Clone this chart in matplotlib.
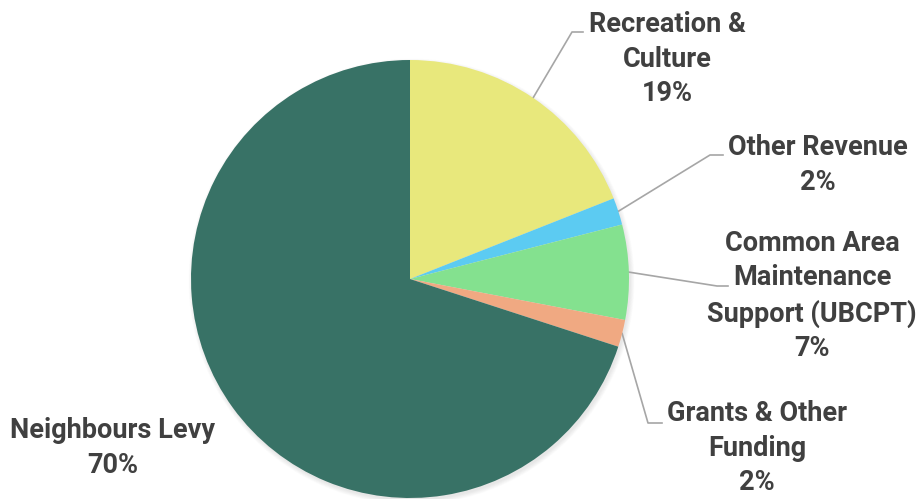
import matplotlib.pyplot as plt
import numpy as np

plt.rcParams['font.family'] = ['Roboto', 'DejaVu Sans']

# Revenue breakdown (%)
categories = ['Recreation &\nCulture', 'Other Revenue', 'Common Area\nMaintenance\nSupport (UBCPT)',
              'Grants & Other\nFunding', 'Neighbours Levy']
shares = [19, 2, 7, 2, 70]
colors = ['#E8E87C', '#5CCBF2', '#84E18F', '#F0A982', '#387266']

W, H = 919, 499
cx, cy, r = 410, H - 279, 219

fig = plt.figure(figsize=(W / 100, H / 100), dpi=100)
ax = fig.add_axes([0, 0, 1, 1])

# soft shadow behind the pie
for i in range(8):
    ax.add_patch(plt.Circle((cx + 1.5, cy - 2.5), r + 4 - i * 0.6, color='black',
                            alpha=0.012, lw=0, zorder=0))

wedges, _ = ax.pie(shares, colors=colors, startangle=90, counterclock=False,
                   center=(cx, cy), radius=r, wedgeprops=dict(linewidth=0))
for w in wedges:
    w.set_zorder(2)

# label block centres and leader-line elbows (pixels from top-left)
label_xy = [(667, 59), (818, 165), (812, 296), (757, 448), (113, 448)]
elbows = [[(572, 32), (583, 32)],
          [(710, 155), (723, 155)],
          [(717, 286), (728, 286)],
          [(648, 423), (662, 423)],
          None]

for w, cat, pct, (lx, ly), elb in zip(wedges, categories, shares, label_xy, elbows):
    ang = np.deg2rad((w.theta1 + w.theta2) / 2)
    if elb is not None:
        xs = [cx + r * np.cos(ang)] + [p[0] for p in elb]
        ys = [cy + r * np.sin(ang)] + [H - p[1] for p in elb]
        ax.plot(xs, ys, color='#A6A6A6', lw=1.2, zorder=1)
    ax.text(lx, H - ly, f'{cat}\n{pct}%', ha='center', va='center', fontsize=19.5,
            fontweight='bold', color='#404040', linespacing=1.37)

ax.set_xlim(0, W)
ax.set_ylim(0, H)
ax.set_aspect('auto')
ax.axis('off')

fig.savefig('out.png', dpi=100)
